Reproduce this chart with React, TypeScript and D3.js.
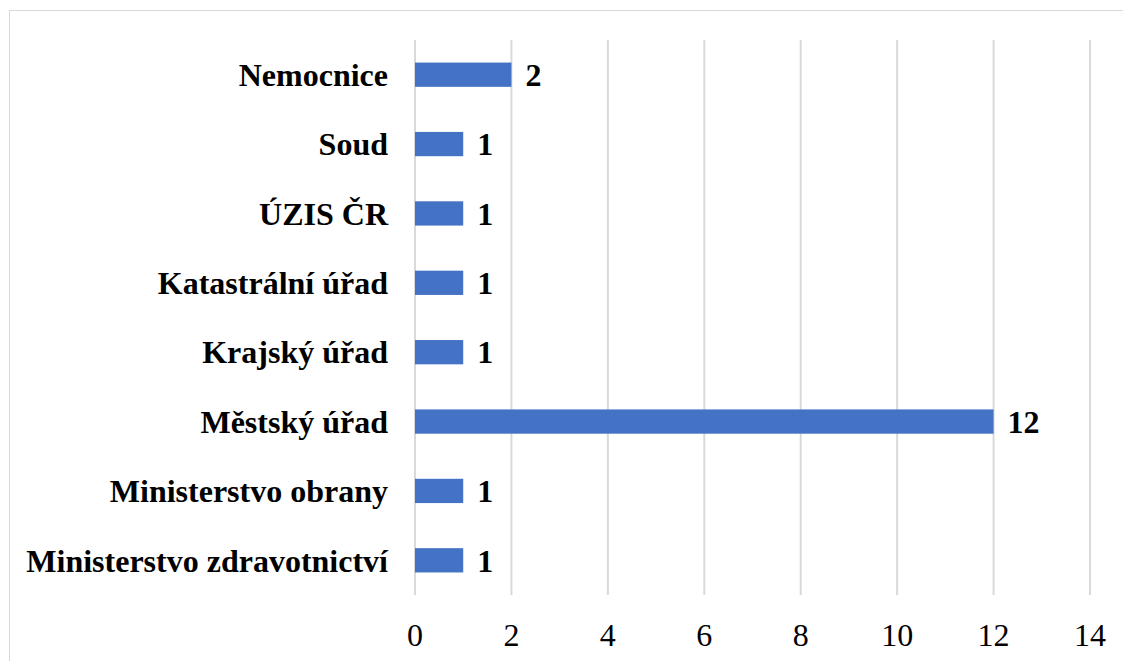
import React from "react";
import * as d3 from "d3";

const categories = [
  "Nemocnice",
  "Soud",
  "ÚZIS ČR",
  "Katastrální úřad",
  "Krajský úřad",
  "Městský úřad",
  "Ministerstvo obrany",
  "Ministerstvo zdravotnictví",
];
const values = [2, 1, 1, 1, 1, 12, 1, 1];
const ticks = [0, 2, 4, 6, 8, 10, 12, 14];

export default function App() {
  const W = 1123;
  const H = 661;
  const x = d3.scaleLinear().domain([0, 14]).range([415, 1090]);
  const y = d3.scaleBand().domain(categories).range([40, 595]).paddingInner(0.65).paddingOuter(0.325);
  const font = "'Liberation Serif', 'Times New Roman', serif";
  return (
    <svg width={W} height={H} style={{ position: "absolute", left: 0, top: 0 }}>
      <rect x={0} y={0} width={W} height={H} fill="#fff" />
      <rect x={9.5} y={10.5} width={1130} height={700} fill="none" stroke="#d9d9d9" strokeWidth={1} />
      {ticks.map((t) => (
        <line key={t} x1={x(t)} x2={x(t)} y1={40} y2={595} stroke="#d9d9d9" strokeWidth={2} />
      ))}
      {categories.map((c, i) => (
        <g key={c}>
          <rect x={x(0)} y={y(c)!} width={x(values[i]) - x(0)} height={y.bandwidth()} fill="#4472c4" />
          <text
            x={x(values[i]) + 14}
            y={y(c)! + y.bandwidth() / 2}
            dy="0.35em"
            fontFamily={font}
            fontWeight="bold"
            fontSize={32}
            fill="#000"
          >
            {values[i]}
          </text>
          <text
            x={388}
            y={y(c)! + y.bandwidth() / 2}
            dy="0.35em"
            textAnchor="end"
            fontFamily={font}
            fontWeight="bold"
            fontSize={32}
            fill="#000"
          >
            {c}
          </text>
        </g>
      ))}
      {ticks.map((t) => (
        <text key={t} x={x(t)} y={646} textAnchor="middle" fontFamily={font} fontSize={32} fill="#000">
          {t}
        </text>
      ))}
    </svg>
  );
}
